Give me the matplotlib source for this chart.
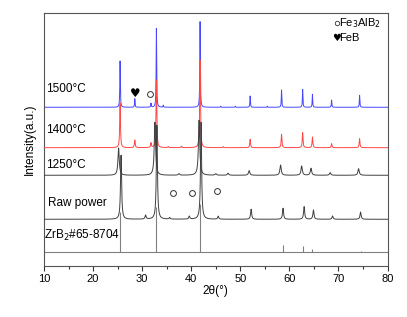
import numpy as np
import matplotlib
matplotlib.use("Agg")
import matplotlib.pyplot as plt

plt.rcParams['font.family'] = ['Liberation Sans', 'DejaVu Sans']

# ---- data (peak positions [2theta], peak heights [a.u.], offsets) ----
labels = ["1500°C", "1400°C", "1250°C", "Raw power"]
offsets = [158.7, 118.3, 90.7, 46.7]
colors = ["#4848ff", "#ff4848", "#404040", "#404040"]
widths = [0.12, 0.18, 0.32, 0.26]

pos_1500 = [25.5, 28.5, 31.8, 32.9, 34.3, 41.8, 46.0, 49.0, 52.0, 55.5, 58.4, 62.7, 64.7, 68.6, 74.3]
int_1500 = [46.3, 8.6, 4.0, 79.0, 2.0, 85.6, 1.0, 1.0, 11.3, 1.0, 17.3, 18.0, 13.0, 7.3, 12.0]

pos_1400 = [25.5, 28.5, 31.8, 32.9, 35.3, 38.0, 41.8, 46.5, 52.0, 58.4, 62.7, 64.7, 68.6, 74.3]
int_1400 = [44.7, 7.7, 4.7, 67.7, 1.0, 1.5, 87.7, 1.0, 8.4, 13.4, 15.0, 10.7, 4.0, 9.0]

pos_1250 = [25.2, 32.6, 37.5, 41.6, 45.0, 47.5, 51.8, 58.2, 62.5, 64.4, 68.3, 74.1]
int_1250 = [27.3, 53.0, 1.5, 55.0, 1.5, 2.0, 4.6, 10.3, 9.3, 7.0, 2.6, 6.6]

pos_raw = [25.7, 30.7, 33.0, 35.6, 39.6, 42.0, 45.5, 52.2, 58.7, 63.0, 64.9, 68.8, 74.5]
int_raw = [64.0, 4.0, 94.0, 1.5, 3.0, 97.0, 3.0, 10.0, 11.0, 12.6, 9.3, 3.3, 7.3]

ref_pos = [25.5, 32.8, 41.8, 58.65, 62.85, 64.7, 74.5]
ref_int = [40.0, 45.0, 48.0, 7.3, 6.6, 3.0, 1.6]
ref_offset = 13.7
ref_label = "ZrB$_2$#65-8704"

fe3alb2_marks_x = [31.7, 36.2, 40.1, 45.3]
fe3alb2_marks_y = [172.0, 73.3, 72.7, 75.3]
feb_marks_x = [28.5]
feb_marks_y = [172.0]

series_pos = [pos_1500, pos_1400, pos_1250, pos_raw]
series_int = [int_1500, int_1400, int_1250, int_raw]
label_y = [177, 136, 101, 63]
label_x = [10.4, 10.4, 10.4, 10.9]

# ---- figure ----
fig = plt.figure(figsize=(4.07, 3.17), dpi=100)
ax = fig.add_axes([0.1081, 0.161, 0.8441, 0.799])

x = np.linspace(10, 80, 7001)

def profile(x, pos, hts, w):
    y = np.zeros_like(x)
    for p, h in zip(pos, hts):
        y += h / (1 + ((x - p) / (w / 2)) ** 2)
    return y

for i in range(4):
    y = offsets[i] + profile(x, series_pos[i], series_int[i], widths[i])
    ax.plot(x, y, color=colors[i], lw=0.7, zorder=2 + i)
    ax.text(label_x[i], label_y[i], labels[i], fontsize=8.5, va='center', ha='left', color='black')

# reference sticks
ax.axhline(ref_offset, color="#808080", lw=0.8, zorder=1)
ax.vlines(ref_pos, ref_offset, [ref_offset + h for h in ref_int], color="#808080", lw=0.8, zorder=1)
ax.text(10.05, 31, ref_label, fontsize=8.5, va='center', ha='left')

# phase markers
ax.plot(fe3alb2_marks_x, fe3alb2_marks_y, 'o', mfc='none', mec='#333333', ms=4.2, mew=0.7, zorder=10)
for xx, yy in zip(feb_marks_x, feb_marks_y):
    ax.text(xx, yy, "♥", fontsize=8.5, ha='center', va='center', family=['DejaVu Sans'])

# legend text
ax.plot([69.6], [243], 'o', mfc='none', mec='#333333', ms=3.2, mew=0.6)
ax.text(70.2, 243, "Fe$_3$AlB$_2$", fontsize=8, va='center', ha='left')
ax.text(69.6, 228, "♥", fontsize=7, va='center', ha='center', family=['DejaVu Sans'])
ax.text(70.2, 228, "FeB", fontsize=8, va='center', ha='left')

ax.set_xlim(10, 80)
ax.set_ylim(0, 253.3)
ax.set_xticks(np.arange(10, 81, 10))
ax.set_xticks(np.arange(15, 80, 10), minor=True)
ax.set_yticks([])
ax.tick_params(axis='x', which='major', direction='out', length=3.5, width=0.8, labelsize=8, pad=2, colors='#333333', labelcolor='black')
ax.tick_params(axis='x', which='minor', direction='out', length=2, width=0.8, colors='#333333')
for s in ax.spines.values():
    s.set_color('#555555')
    s.set_linewidth(0.8)

ax.set_xlabel("2θ(°)", fontsize=8.5, labelpad=1)
ax.set_ylabel("Intensity(a.u.)", fontsize=8.5, labelpad=6)

fig.savefig("out.png", dpi=100)
